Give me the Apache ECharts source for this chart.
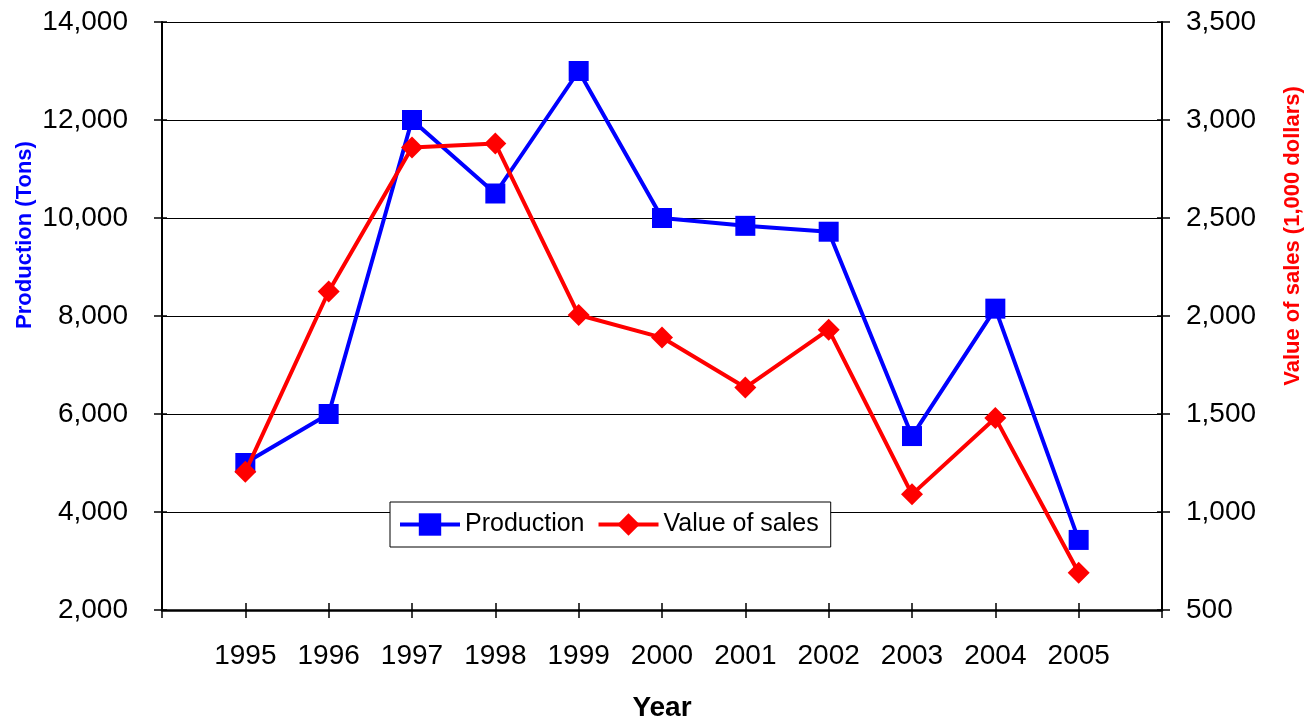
<!DOCTYPE html>
<html>
<head>
<meta charset="utf-8">
<script src="https://cdn.jsdelivr.net/npm/echarts@6/dist/echarts.min.js"></script>
<style>
html,body{margin:0;padding:0;background:#fff;}
#chart{width:1308px;height:719px;}
</style>
</head>
<body>
<div id="chart"></div>
<script>
// ---- data ----
var years = [1995, 1996, 1997, 1998, 1999, 2000, 2001, 2002, 2003, 2004, 2005];
var production = [5000, 6000, 12000, 10500, 13000, 10000, 9840, 9720, 5550, 8150, 3430];
var salesValue = [1205, 2125, 2860, 2880, 2005, 1890, 1635, 1930, 1090, 1480, 690];
var leftTicks = [2000, 4000, 6000, 8000, 10000, 12000, 14000];
var rightTicks = [500, 1000, 1500, 2000, 2500, 3000, 3500];

var FONT = "'Liberation Sans', Arial, sans-serif";
function fmt(v) { return String(v).replace(/\B(?=(\d{3})+(?!\d))/g, ','); }
function pairs(vals) { return years.map(function (y, i) { return [y, vals[i]]; }); }

var chart = echarts.init(document.getElementById('chart'), null, {renderer: 'canvas'});
var xMin = years[0] - 1, xMax = years[years.length - 1] + 1;
var lMin = leftTicks[0], lMax = leftTicks[leftTicks.length - 1], lInt = leftTicks[1] - leftTicks[0];
var rMin = rightTicks[0], rMax = rightTicks[rightTicks.length - 1], rInt = rightTicks[1] - rightTicks[0];

var option = {
  animation: false,
  backgroundColor: '#fff',
  textStyle: {fontFamily: FONT, color: '#000'},
  grid: {left: 162, right: 146, top: 22, bottom: 109, containLabel: false, outerBoundsMode: 'none'},
  legend: {
    left: 390, top: 502,
    orient: 'horizontal',
    backgroundColor: '#fff',
    borderColor: '#000', borderWidth: 1,
    padding: [10, 12, 10, 8],
    itemWidth: 60, itemHeight: 28, itemGap: 12,
    lineStyle: {width: 4},
    textStyle: {fontFamily: FONT, fontSize: 25, color: '#000'},
    data: ['Production', 'Value of sales'],
    z: 10
  },
  xAxis: [
    {
      type: 'value', min: xMin, max: xMax, interval: 1,
      position: 'bottom',
      name: 'Year', nameLocation: 'middle', nameGap: 84,
      nameTextStyle: {fontFamily: FONT, fontSize: 28, fontWeight: 'bold', color: '#000'},
      axisLine: {show: true, lineStyle: {color: '#000', width: 2.5}},
      axisTick: {show: true, inside: false, length: 8, lineStyle: {color: '#000', width: 1.5}},
      axisLabel: {
        margin: 32, fontFamily: FONT, fontSize: 28, color: '#000',
        formatter: function (v) { return (v >= years[0] && v <= years[years.length - 1]) ? String(v) : ''; }
      },
      splitLine: {show: false}
    },
    {
      type: 'value', min: xMin, max: xMax, interval: 1,
      position: 'bottom',
      axisLine: {show: false},
      axisTick: {show: true, inside: true, length: 7, lineStyle: {color: '#000', width: 1.5}},
      axisLabel: {show: false},
      splitLine: {show: false}
    }
  ],
  yAxis: [
    {
      type: 'value', min: lMin, max: lMax, interval: lInt, position: 'left',
      axisLine: {show: true, lineStyle: {color: '#000', width: 2}},
      axisTick: {show: true, inside: false, length: 8, lineStyle: {color: '#000', width: 1.5}},
      axisLabel: {margin: 34, fontFamily: FONT, fontSize: 28, color: '#000', formatter: fmt},
      splitLine: {show: true, lineStyle: {color: '#000', width: 1}}
    },
    {
      type: 'value', min: rMin, max: rMax, interval: rInt, position: 'right',
      axisLine: {show: true, lineStyle: {color: '#000', width: 2}},
      axisTick: {show: true, inside: false, length: 8, lineStyle: {color: '#000', width: 1.5}},
      axisLabel: {margin: 24, fontFamily: FONT, fontSize: 28, color: '#000', formatter: fmt},
      splitLine: {show: false}
    },
    {
      type: 'value', min: lMin, max: lMax, interval: lInt, position: 'left',
      axisLine: {show: false},
      axisTick: {show: true, inside: true, length: 5, lineStyle: {color: '#000', width: 1.5}},
      axisLabel: {show: false}, splitLine: {show: false}
    },
    {
      type: 'value', min: rMin, max: rMax, interval: rInt, position: 'right',
      axisLine: {show: false},
      axisTick: {show: true, inside: true, length: 5, lineStyle: {color: '#000', width: 1.5}},
      axisLabel: {show: false}, splitLine: {show: false}
    }
  ],
  graphic: [
    {
      type: 'text', x: 25, y: 235, rotation: Math.PI / 2,
      style: {text: 'Production (Tons)', fill: '#0000FF', font: 'bold 22px ' + FONT, align: 'center', verticalAlign: 'middle'}
    },
    {
      type: 'text', x: 1293, y: 236, rotation: Math.PI / 2,
      style: {text: 'Value of sales (1,000 dollars)', fill: '#FF0000', font: 'bold 22px ' + FONT, align: 'center', verticalAlign: 'middle'}
    }
  ],
  series: [
    {
      name: 'Production', type: 'line', xAxisIndex: 0, yAxisIndex: 0,
      data: pairs(production),
      symbol: 'rect', symbolSize: 20,
      lineStyle: {color: '#0000FF', width: 4},
      itemStyle: {color: '#0000FF'},
      z: 3
    },
    {
      name: 'Value of sales', type: 'line', xAxisIndex: 0, yAxisIndex: 1,
      data: pairs(salesValue),
      symbol: 'diamond', symbolSize: 22,
      lineStyle: {color: '#FF0000', width: 4},
      itemStyle: {color: '#FF0000'},
      z: 4
    }
  ]
};
chart.setOption(option);
</script>
</body>
</html>
